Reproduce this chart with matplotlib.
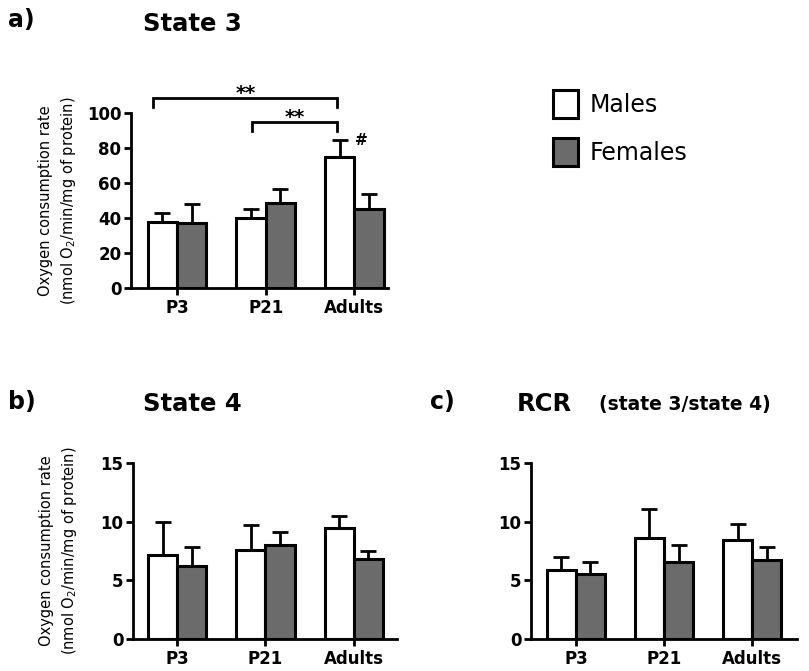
import numpy as np
import matplotlib
matplotlib.use('Agg')
import matplotlib.pyplot as plt

plt.rcParams['font.family'] = ['DejaVu Sans']

groups = ['P3', 'P21', 'Adults']

# State 3
s3_males = [37.5, 40.0, 75.0]
s3_males_sem = [5.5, 5.0, 9.5]
s3_females = [37.0, 48.5, 45.0]
s3_females_sem = [11.0, 8.0, 9.0]

# State 4
s4_males = [7.2, 7.6, 9.5]
s4_males_sem = [2.8, 2.1, 1.0]
s4_females = [6.2, 8.0, 6.8]
s4_females_sem = [1.6, 1.1, 0.7]

# RCR
rcr_males = [5.9, 8.6, 8.4]
rcr_males_sem = [1.1, 2.5, 1.4]
rcr_females = [5.5, 6.6, 6.7]
rcr_females_sem = [1.1, 1.4, 1.1]

FEMALE_GREY = '#6b6b6b'
W = 0.33
YLABEL = 'Oxygen consumption rate\n(nmol O$_2$/min/mg of protein)'


def barras(ax, machos, machos_err, femeas, femeas_err, ylim, yticks, xlim):
    x = np.arange(len(groups))
    bm = ax.bar(x - W / 2, machos, W, color='white', edgecolor='black',
                linewidth=2.2, label='Males', zorder=2)
    bf = ax.bar(x + W / 2, femeas, W, color=FEMALE_GREY, edgecolor='black',
                linewidth=2.2, label='Females', zorder=2)
    for xs, v, e in [(x - W / 2, machos, machos_err), (x + W / 2, femeas, femeas_err)]:
        ax.errorbar(xs, v, yerr=[np.zeros(len(v)), e], fmt='none', ecolor='black',
                    elinewidth=2, capsize=5.5, capthick=2, zorder=1)
    ax.set_xlim(*xlim)
    ax.set_ylim(*ylim)
    ax.set_yticks(yticks)
    ax.set_xticks(x)
    ax.set_xticklabels(groups, fontsize=12, fontweight='bold')
    for lab in ax.get_yticklabels():
        lab.set_fontsize(12)
        lab.set_fontweight('bold')
    for s in ['top', 'right']:
        ax.spines[s].set_visible(False)
    for s in ['left', 'bottom']:
        ax.spines[s].set_linewidth(2)
    ax.tick_params(axis='both', direction='out', length=5, width=2)
    ax.tick_params(axis='x', pad=3)
    ax.tick_params(axis='y', pad=2)
    return bm, bf


fig = plt.figure(figsize=(8.09, 6.71), dpi=100)
W_PX, H_PX = 809, 671


def eixo(l, r, t, b):
    return fig.add_axes([l / W_PX, 1 - b / H_PX, (r - l) / W_PX, (b - t) / H_PX])


ax_a = eixo(131, 388, 113, 288)
ax_b = eixo(133, 397, 463, 639)
ax_c = eixo(531, 797, 463, 639)

bm, bf = barras(ax_a, s3_males, s3_males_sem, s3_females, s3_females_sem,
                (0, 100), [0, 20, 40, 60, 80, 100], (-0.52, 2.38))
barras(ax_b, s4_males, s4_males_sem, s4_females, s4_females_sem,
       (0, 15), [0, 5, 10, 15], (-0.5, 2.49))
barras(ax_c, rcr_males, rcr_males_sem, rcr_females, rcr_females_sem,
       (0, 15), [0, 5, 10, 15], (-0.51, 2.51))

for ax in (ax_a, ax_b):
    ax.set_ylabel(YLABEL, fontsize=10.5, linespacing=1.45)
    ax.yaxis.set_label_coords(-0.205, 0.5)

# significance brackets (panel a)
brackets = [(-0.27, 1.81, 108.6, 103.4, '**'), (0.85, 1.81, 94.9, 89.7, '**')]
for x0, x1, top, leg, txt in brackets:
    ax_a.plot([x0, x0, x1, x1], [leg, top, top, leg], color='black', lw=2,
              clip_on=False, solid_joinstyle='miter')
    ax_a.text((x0 + x1) / 2, top - 0.5, txt, ha='center', va='baseline',
              fontsize=14, fontweight='bold', clip_on=False)
ax_a.text(2 + W / 2 - 0.08, 80, '#', ha='center', va='bottom', fontsize=11,
          fontweight='bold')

# titles
fig.text(8 / W_PX, 1 - 20 / H_PX, 'a)', fontsize=17, fontweight='bold', va='center')
fig.text(143 / W_PX, 1 - 24 / H_PX, 'State 3', fontsize=17.5, fontweight='bold', va='center')
fig.text(8 / W_PX, 1 - 402 / H_PX, 'b)', fontsize=17, fontweight='bold', va='center')
fig.text(143 / W_PX, 1 - 404 / H_PX, 'State 4', fontsize=17.5, fontweight='bold', va='center')
fig.text(430 / W_PX, 1 - 402 / H_PX, 'c)', fontsize=17, fontweight='bold', va='center')
fig.text(517 / W_PX, 1 - 404 / H_PX, 'RCR', fontsize=17.5, fontweight='bold', va='center')
fig.text(599 / W_PX, 1 - 405 / H_PX, '(state 3/state 4)', fontsize=13.5,
         fontweight='bold', va='center')

fig.legend(handles=[bm, bf], labels=['Males', 'Females'], loc='upper left',
           bbox_to_anchor=(553 / W_PX, 1 - 90 / H_PX), frameon=False,
           fontsize=17, handlelength=1.05, handleheight=1.45, labelspacing=0.85,
           handletextpad=0.5, borderpad=0, borderaxespad=0)

fig.savefig('out.png', dpi=100)
